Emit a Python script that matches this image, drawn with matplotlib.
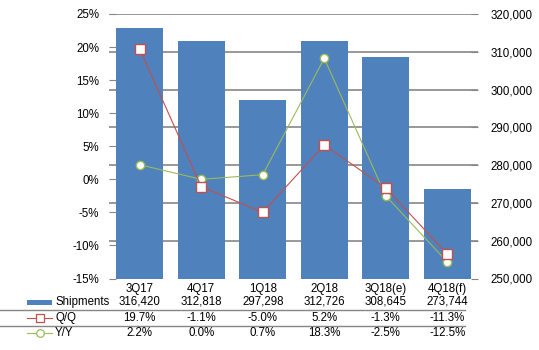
import matplotlib
matplotlib.use("Agg")
import matplotlib.pyplot as plt
from matplotlib.lines import Line2D
from matplotlib.patches import Rectangle
from matplotlib.transforms import blended_transform_factory

plt.rcParams['font.family'] = ['Liberation Sans', 'DejaVu Sans']

categories = ['3Q17', '4Q17', '1Q18', '2Q18', '3Q18(e)', '4Q18(f)']
shipments = [316420, 312818, 297298, 312726, 308645, 273744]
qq = [19.7, -1.1, -5.0, 5.2, -1.3, -11.3]
yy = [2.2, 0.0, 0.7, 18.3, -2.5, -12.5]
left_ticks = [-15, -10, -5, 0, 5, 10, 15, 20, 25]
right_ticks = [250000, 260000, 270000, 280000, 290000, 300000, 310000, 320000]

W, H = 539, 350
BLUE = '#4F81BD'
RED = '#C0504D'
GREEN = '#9BBB59'
GRID = '#868686'
FS = 8.3

fig = plt.figure(figsize=(W / 100, H / 100), dpi=100)
L, R, T, B = 109, 478, 14, 278.5
rect = [L / W, 1 - B / H, (R - L) / W, (B - T) / H]

# grid-only axes in the back
ax_g = fig.add_axes(rect, zorder=0)
ax_g.set_ylim(250000, 320000)
ax_g.set_xlim(0, 1)
for v in right_ticks[1:]:
    ax_g.axhline(v, color=GRID, linewidth=1.2)
ax_g.axis('off')

# bars axes
ax_r = fig.add_axes(rect, zorder=1)
ax_r.patch.set_visible(False)
x = list(range(len(categories)))
ax_r.bar(x, shipments, width=0.765, color=BLUE)
ax_r.set_ylim(250000, 320000)
ax_r.set_xlim(-0.5, len(categories) - 0.5)
ax_r.yaxis.tick_right()
ax_r.set_yticks(right_ticks)
ax_r.set_yticklabels([f'{v:,}' for v in right_ticks])
ax_r.tick_params(axis='x', length=0, labelbottom=False)

# lines axes in front
ax_l = fig.add_axes(rect, zorder=2)
ax_l.patch.set_visible(False)
ax_l.plot(x, qq, color=RED, linewidth=0.8, marker='s', markersize=6.5,
          markerfacecolor='white', markeredgecolor=RED, markeredgewidth=1.0, zorder=5)
ax_l.plot(x, yy, color=GREEN, linewidth=0.8, marker='o', markersize=6,
          markerfacecolor='white', markeredgecolor=GREEN, markeredgewidth=1.0, zorder=4)
ax_l.set_ylim(-15, 25)
ax_l.set_yticks(left_ticks)
ax_l.set_yticklabels([f'{v}%' for v in left_ticks])
ax_l.set_xlim(-0.5, len(categories) - 0.5)

for a in (ax_l, ax_r):
    for s in a.spines.values():
        s.set_visible(False)
    a.tick_params(axis='y', direction='in', length=5, width=0.8, color=GRID,
                  labelsize=FS, labelcolor='black')
ax_l.tick_params(axis='y', pad=7)
ax_r.tick_params(axis='y', pad=9)

ax_l.set_xticks(x)
ax_l.set_xticklabels(categories)
ax_l.tick_params(axis='x', length=0, labelsize=FS, pad=3)

# data table
trans = blended_transform_factory(ax_l.transData, fig.transFigure)
rows_y = [302, 318, 333]
row_vals = [[f'{v:,}' for v in shipments],
            [f'{v:.1f}%' for v in qq],
            [f'{v:.1f}%' for v in yy]]
for ry, vals in zip(rows_y, row_vals):
    for xi, v in zip(x, vals):
        fig.text(xi, 1 - ry / H, v, transform=trans, ha='center', va='center', fontsize=FS)

for ly in (310, 326):
    fig.add_artist(Line2D([0, 465 / W], [1 - ly / H, 1 - ly / H], transform=fig.transFigure,
                          color=GRID, linewidth=1.0))

# legend keys
fig.add_artist(Rectangle((27 / W, 1 - 304.5 / H), 25 / W, 5 / H, transform=fig.transFigure,
                         facecolor=BLUE, edgecolor='none'))
fig.add_artist(Line2D([27 / W, 52 / W], [1 - 318 / H] * 2, transform=fig.transFigure,
                      color=RED, linewidth=0.8))
fig.add_artist(Line2D([39.5 / W], [1 - 318 / H], transform=fig.transFigure, marker='s',
                      markersize=5.5, markerfacecolor='white', markeredgecolor=RED,
                      markeredgewidth=0.9, linestyle='none'))
fig.add_artist(Line2D([27 / W, 52 / W], [1 - 333 / H] * 2, transform=fig.transFigure,
                      color=GREEN, linewidth=0.8))
fig.add_artist(Line2D([39.5 / W], [1 - 333 / H], transform=fig.transFigure, marker='o',
                      markersize=5.5, markerfacecolor='white', markeredgecolor=GREEN,
                      markeredgewidth=0.9, linestyle='none'))
for ry, lab in zip(rows_y, ['Shipments', 'Q/Q', 'Y/Y']):
    fig.text(55 / W, 1 - ry / H, lab, ha='left', va='center', fontsize=FS)

fig.savefig('out.png', dpi=100)
